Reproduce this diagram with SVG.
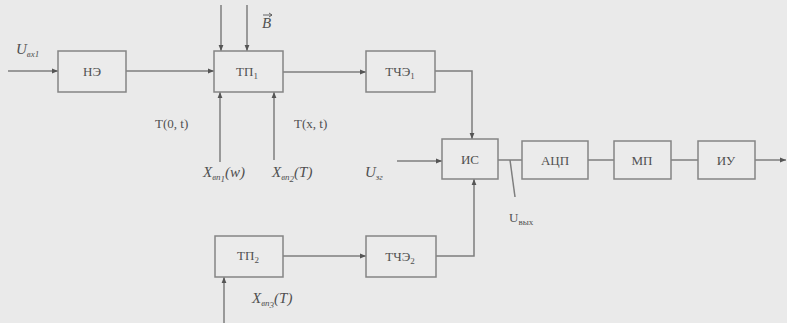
<svg xmlns="http://www.w3.org/2000/svg" width="787" height="323" viewBox="0 0 787 323">
<defs>
<marker id="ah" viewBox="0 0 10 10" refX="10" refY="5" markerWidth="6" markerHeight="6" orient="auto" markerUnits="userSpaceOnUse">
<path d="M0,1 L10,5 L0,9 Z" fill="#555"/>
</marker>
<style>
.bx{fill:#ebebeb;stroke:#858585;stroke-width:1.5}
.ln{fill:none;stroke:#7e7e7e;stroke-width:1.5}
.lb{font-family:"Liberation Serif",serif;font-size:13px;fill:#505050;text-anchor:middle}
.t{font-family:"Liberation Serif",serif;font-size:13px;fill:#505050}
.it{font-style:italic;font-size:15px}
.sb{font-size:9px}
</style>
</defs>
<rect width="787" height="323" fill="#eaeaea"/>
<g id="connectors">
<line class="ln" x1="8" y1="71" x2="58" y2="71" marker-end="url(#ah)"/>
<line class="ln" x1="126" y1="71" x2="214" y2="71" marker-end="url(#ah)"/>
<line class="ln" x1="221" y1="5" x2="221" y2="51" marker-end="url(#ah)"/>
<line class="ln" x1="247" y1="5" x2="247" y2="51" marker-end="url(#ah)"/>
<line class="ln" x1="220" y1="162" x2="220" y2="92" marker-end="url(#ah)"/>
<line class="ln" x1="274" y1="160" x2="274" y2="92" marker-end="url(#ah)"/>
<line class="ln" x1="283" y1="72" x2="366" y2="72" marker-end="url(#ah)"/>
<polyline class="ln" points="435,71 472,71 472,139" marker-end="url(#ah)"/>
<line class="ln" x1="397" y1="161" x2="442" y2="161" marker-end="url(#ah)"/>
<polyline class="ln" points="436,256 474,256 474,179" marker-end="url(#ah)"/>
<line class="ln" x1="283" y1="256" x2="366" y2="256" marker-end="url(#ah)"/>
<line class="ln" x1="224" y1="323" x2="224" y2="277" marker-end="url(#ah)"/>
<line class="ln" x1="498" y1="160" x2="522" y2="160"/>
<line class="ln" x1="510" y1="160" x2="515" y2="197"/>
<line class="ln" x1="588" y1="160" x2="614" y2="160"/>
<line class="ln" x1="671" y1="160" x2="698" y2="160"/>
<line class="ln" x1="755" y1="160" x2="786" y2="160" marker-end="url(#ah)"/>
</g>
<g id="NE"><rect class="bx" x="58" y="51" width="68" height="41"/><text class="lb" x="92" y="76">НЭ</text></g>
<g id="TP1"><rect class="bx" x="214" y="51" width="69" height="41"/><text class="lb" x="247" y="76">ТП<tspan class="sb" dy="3">1</tspan></text></g>
<g id="TChE1"><rect class="bx" x="366" y="51" width="69" height="41"/><text class="lb" x="400" y="76">ТЧЭ<tspan class="sb" dy="3">1</tspan></text></g>
<g id="IS"><rect class="bx" x="442" y="139" width="56" height="40"/><text class="lb" x="470" y="164">ИС</text></g>
<g id="ADC"><rect class="bx" x="522" y="141" width="66" height="38"/><text class="lb" x="555" y="165">АЦП</text></g>
<g id="MP"><rect class="bx" x="614" y="141" width="57" height="38"/><text class="lb" x="642" y="165">МП</text></g>
<g id="IU"><rect class="bx" x="698" y="141" width="57" height="38"/><text class="lb" x="726" y="165">ИУ</text></g>
<g id="TP2"><rect class="bx" x="215" y="236" width="68" height="41"/><text class="lb" x="248" y="260">ТП<tspan class="sb" dy="3">2</tspan></text></g>
<g id="TChE2"><rect class="bx" x="366" y="236" width="70" height="41"/><text class="lb" x="400" y="261">ТЧЭ<tspan class="sb" dy="3">2</tspan></text></g>
<g id="labels">
<text class="t it" x="16" y="54">U<tspan class="sb" dy="3">вх1</tspan></text>
<text class="t it" x="262" y="28">B</text>
<path d="M263,15 L272,15 M269,13 L272,15 L269,17" fill="none" stroke="#555" stroke-width="0.9"/>
<text class="t" x="155" y="128">T(0, t)</text>
<text class="t" x="294" y="128">T(x, t)</text>
<text class="t it" x="203" y="177">X<tspan class="sb" dy="3">вп</tspan><tspan class="sb" font-size="7" dy="2">1</tspan><tspan dy="-5">(w)</tspan></text>
<text class="t it" x="272" y="177">X<tspan class="sb" dy="3">вп</tspan><tspan class="sb" font-size="7" dy="2">2</tspan><tspan dy="-5">(T)</tspan></text>
<text class="t it" x="365" y="177">U<tspan class="sb" dy="3">зг</tspan></text>
<text class="t" x="509" y="222">U<tspan class="sb" dy="3">вых</tspan></text>
<text class="t it" x="252" y="303">X<tspan class="sb" dy="3">вп</tspan><tspan class="sb" font-size="7" dy="2">3</tspan><tspan dy="-5">(T)</tspan></text>
</g>
</svg>
